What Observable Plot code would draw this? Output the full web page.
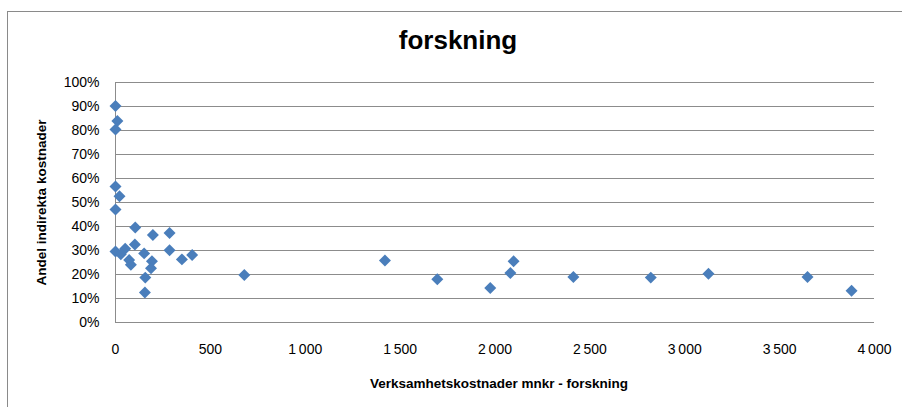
<!DOCTYPE html>
<html>
<head>
<meta charset="utf-8">
<script src="https://cdn.jsdelivr.net/npm/d3@7"></script>
<script src="https://cdn.jsdelivr.net/npm/@observablehq/plot@0.6"></script>
<style>
  html, body { margin: 0; padding: 0; background: #fff; }
  #wrap { position: relative; width: 902px; height: 407px; overflow: hidden; font-family: "Liberation Sans", Arial, sans-serif; }
  #frame { position: absolute; left: 7px; top: 11px; width: 1000px; height: 500px; border-left: 1px solid #8a8a8a; border-top: 1px solid #8a8a8a; }
  #title { position: relative; box-sizing: border-box; width: 902px; height: 60px; padding-top: 27px; padding-left: 14px; text-align: center; font-size: 26px; line-height: 26px; font-weight: bold; color: #000; }
  #chart { position: relative; }
</style>
</head>
<body>
<div id="wrap">
  <div id="frame"></div>
  <div id="title">forskning</div>
  <div id="chart"></div>
</div>
<script>
// Verksamhetskostnader mnkr - forskning (x) and Andel indirekta kostnader (y, %)
const costs = [0, 10, 0, 0, 21, 0, 104, 197, 285, 0, 102, 51, 28, 72, 81, 151, 285, 192, 187, 157, 155, 350, 404, 679,
               1420, 1696, 1975, 2098, 2081, 2413, 2821, 3125, 3647, 3879];
const shares = [90.2, 84.0, 80.4, 56.7, 52.6, 47.1, 39.6, 36.5, 37.3, 29.6, 32.5, 30.7, 28.4, 26.0, 24.1, 28.8, 30.1, 25.5, 22.6, 18.7, 12.5, 26.3, 28.1, 19.8,
                25.8, 18.0, 14.4, 25.5, 20.6, 19.0, 18.7, 20.3, 19.0, 13.2];
const xTicks = [0, 500, 1000, 1500, 2000, 2500, 3000, 3500, 4000];
const yTicks = [0, 0.1, 0.2, 0.3, 0.4, 0.5, 0.6, 0.7, 0.8, 0.9, 1.0];
const xTitle = "Verksamhetskostnader mnkr - forskning";
const yTitle = "Andel indirekta kostnader";

const data = costs.map((c, i) => ({x: c, y: shares[i] / 100}));
const fmtX = d => d3.format(",")(d).replace(/,/g, "\u2009");

const chart = Plot.plot({
  width: 902,
  height: 347,
  marginLeft: 115,
  marginRight: 28,
  marginTop: 22,
  marginBottom: 85,
  style: {fontFamily: "'Liberation Sans', Arial, sans-serif", fontSize: "14px", background: "transparent", color: "#000", overflow: "visible"},
  x: {domain: [0, 4000], ticks: xTicks, tickFormat: fmtX, tickSize: 0, tickPadding: 22, label: null},
  y: {domain: [0, 1], ticks: yTicks, tickFormat: d3.format(".0%"), tickSize: 0, tickPadding: 16, label: null},
  marks: [
    Plot.ruleY(yTicks, {stroke: "#8c8c8c", strokeWidth: 1, strokeOpacity: 1}),
    Plot.ruleX([0], {stroke: "#8c8c8c", strokeWidth: 1, strokeOpacity: 1}),
    Plot.dot(data, {x: "x", y: "y", symbol: "diamond2", r: 5.4, fill: "#4a7ebb", stroke: "none"}),
    Plot.text([yTitle], {frameAnchor: "left", dx: -74, rotate: -90, textAnchor: "middle", lineAnchor: "middle", fontWeight: "bold", fontSize: 13.5, fill: "#000"}),
    Plot.text([xTitle], {frameAnchor: "bottom", dy: 61, dx: 4, textAnchor: "middle", lineAnchor: "middle", fontWeight: "bold", fontSize: 13.5, fill: "#000"})
  ]
});
document.getElementById("chart").appendChild(chart);
</script>
</body>
</html>
